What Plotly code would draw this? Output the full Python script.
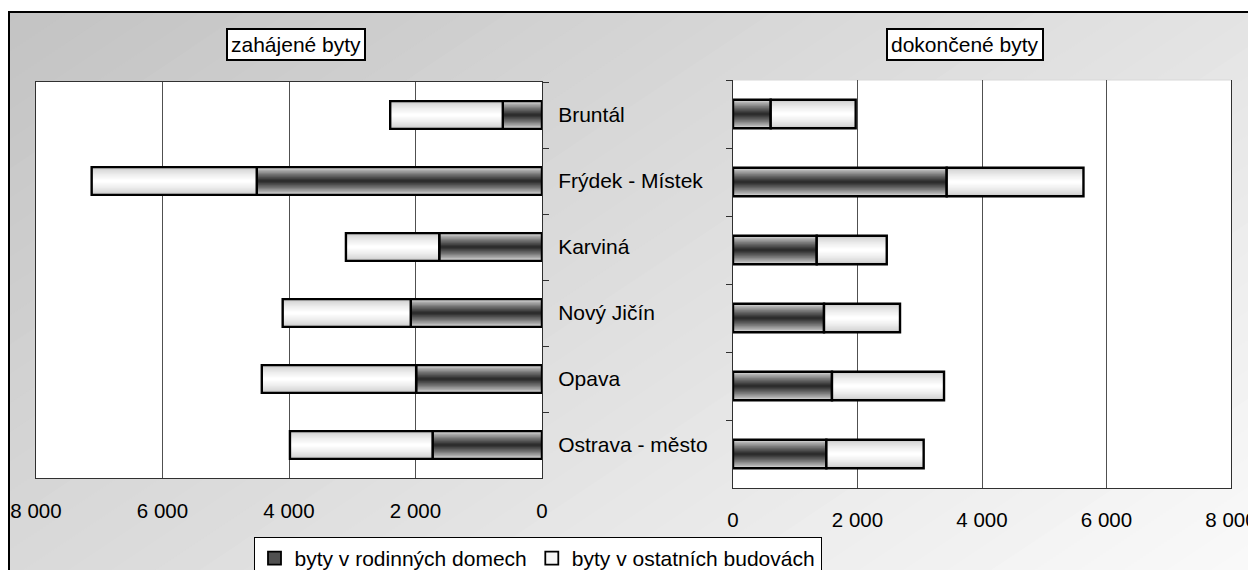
import plotly.graph_objects as go

# page is offset by the browser's 8px body margin, so the figure is 1248x562
OX, OY = 8, 8
FW, FH = 1248, 562

# ---------------- data ----------------
categories = ["Bruntál", "Frýdek - Místek", "Karviná", "Nový Jičín", "Opava", "Ostrava - město"]
started_family = [620, 4510, 1625, 2075, 1990, 1730]       # zahájené – rodinné domy
started_other = [1780, 2610, 1475, 2025, 2440, 2255]       # zahájené – ostatní budovy
completed_family = [606, 3433, 1345, 1462, 1590, 1500]     # dokončené – rodinné domy
completed_other = [1365, 2197, 1125, 1221, 1800, 1563]     # dokončené – ostatní budovy
series_names = ["byty v rodinných domech", "byty v ostatních budovách"]
panel_titles = ["zahájené byty", "dokončené byty"]
tick_values = [0, 2000, 4000, 6000, 8000]
axis_max = 8000

FONT = "Liberation Sans, Arial, sans-serif"


def px(x):
    return (x - OX) / FW


def py(y):
    return 1 - (y - OY) / FH


def gray(v):
    v = int(round(v))
    return f"rgb({v},{v},{v})"


fig = go.Figure()

BW = 0.42
N = 12


def add_series(values, base, outer, inner, xa, ya, gamma=1.0):
    for k in range(N):
        t = (k / (N - 1)) ** gamma
        w = BW * (1 - k / N)
        fig.add_trace(go.Bar(
            x=values, y=categories, base=base, orientation="h", width=w,
            marker=dict(color=gray(outer + (inner - outer) * t), line=dict(width=0)),
            xaxis=xa, yaxis=ya, showlegend=False, hoverinfo="skip"))
    fig.add_trace(go.Bar(
        x=values, y=categories, base=base, orientation="h", width=BW,
        marker=dict(color="rgba(0,0,0,0)", line=dict(color="black", width=2.4)),
        xaxis=xa, yaxis=ya, showlegend=False, hoverinfo="skip"))


# left panel (started)
add_series(started_family, None, 225, 45, "x", "y", 0.8)
add_series(started_other, started_family, 195, 255, "x", "y", 0.6)
# right panel (completed)
add_series(completed_family, None, 225, 45, "x2", "y2", 0.8)
add_series(completed_other, completed_family, 195, 255, "x2", "y2", 0.6)

# legend entries
fig.add_trace(go.Scatter(x=[None], y=[None], mode="markers", name=series_names[0],
                         marker=dict(symbol="square", size=13, color="#505050",
                                     line=dict(color="black", width=1.8)),
                         xaxis="x2", yaxis="y2"))
fig.add_trace(go.Scatter(x=[None], y=[None], mode="markers", name=series_names[1],
                         marker=dict(symbol="square", size=13, color="#f6f6f6",
                                     line=dict(color="black", width=1.8)),
                         xaxis="x2", yaxis="y2"))

# ---------------- background shapes ----------------
shapes = []
# diagonal gradient bands: s = x + 1.5*y  (page pixels)
s_min, s_max = 0, 1256 + 1.5 * 570
NB = 48
c0, c1 = 194, 250
for i in range(NB):
    s0 = s_min + (s_max - s_min) * i / NB - 1
    s1 = s_min + (s_max - s_min) * (i + 1) / NB + 1
    pts = [(s0 + 150, -100), (s1 + 150, -100), (s1 - 1050, 700), (s0 - 1050, 700)]
    path = "M " + " L ".join(f"{px(x):.5f},{py(y):.5f}" for x, y in pts) + " Z"
    col = gray(c0 + (c1 - c0) * (i + 0.5) / NB)
    shapes.append(dict(type="path", path=path, xref="paper", yref="paper",
                       fillcolor=col, line=dict(width=0), layer="below"))
# white above the frame
shapes.append(dict(type="rect", xref="paper", yref="paper", x0=-0.05, x1=1.05, y0=py(12), y1=1.05,
                   fillcolor="white", line=dict(width=0), layer="below"))
# outer frame
shapes.append(dict(type="rect", xref="paper", yref="paper", x0=px(9), x1=1.02, y0=-0.05, y1=py(12),
                   fillcolor="rgba(0,0,0,0)", line=dict(color="black", width=2), layer="below"))
# white plot areas
for xr, yr in (("x domain", "y domain"), ("x2 domain", "y2 domain")):
    shapes.append(dict(type="rect", xref=xr, yref=yr, x0=0, x1=1, y0=0, y1=1,
                       fillcolor="white", line=dict(width=0), layer="below"))
# faint top edge of the right plot area
shapes.append(dict(type="line", xref="x2 domain", yref="y2 domain", x0=0, x1=1, y0=1, y1=1,
                   line=dict(color="#d8d8d8", width=1), layer="below"))

annotations = []
for title, xc in zip(panel_titles, (295.5, 965)):
    annotations.append(dict(text=title, xref="paper", yref="paper", x=px(xc), y=py(44),
                            xanchor="center", yanchor="middle", showarrow=False,
                            font=dict(family=FONT, size=21, color="black"),
                            bgcolor="white", bordercolor="black", borderwidth=2, borderpad=3))

axis_common = dict(
    tickvals=tick_values, tickformat=",d", showgrid=True, gridcolor="#505050", gridwidth=1,
    zeroline=False, ticks="", tickfont=dict(family=FONT, size=20.5, color="black"),
    showline=True, linecolor="#303030", linewidth=1, ticklabeloverflow="allow",
)
cat_common = dict(
    type="category", autorange="reversed", tickson="boundaries", ticks="outside", ticklen=6,
    tickcolor="#303030", showgrid=False, showline=True, linecolor="#303030", linewidth=1,
    mirror=True, zeroline=False,
)

fig.update_layout(
    width=FW, height=FH,
    margin=dict(l=0, r=0, t=0, b=0, autoexpand=False),
    paper_bgcolor="white", plot_bgcolor="white",
    separators=", ",
    barmode="overlay",
    font=dict(family=FONT, color="black"),
    xaxis=dict(domain=[px(36), px(542)], range=[axis_max, 0], anchor="y", mirror=True,
               ticklabelstandoff=14, **axis_common),
    yaxis=dict(domain=[py(478), py(82)], anchor="x", side="right",
               tickfont=dict(family=FONT, size=21, color="black"), ticklabelstandoff=11,
               **cat_common),
    xaxis2=dict(domain=[px(733), px(1231)], range=[0, axis_max], anchor="y2", mirror=False,
                ticklabelstandoff=13, **axis_common),
    yaxis2=dict(domain=[py(488), py(80)], anchor="x2", side="left", showticklabels=False,
                **cat_common),
    legend=dict(orientation="h", x=px(537.5), xanchor="center", y=py(537), yanchor="top",
                bgcolor="white", bordercolor="black", borderwidth=1,
                font=dict(family=FONT, size=21, color="black"), itemclick=False),
    shapes=shapes,
    annotations=annotations,
    showlegend=True,
)

fig.write_html("out.html")
